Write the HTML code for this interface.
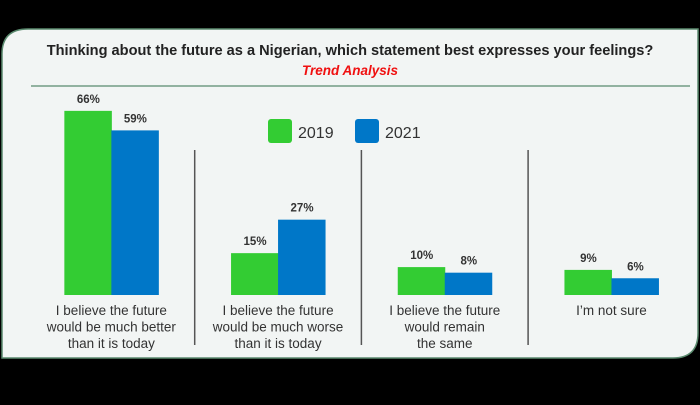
<!DOCTYPE html>
<html><head><meta charset="utf-8"><style>
body{margin:0;width:700px;height:400px;background:#000;overflow:hidden;font-family:"Liberation Sans",sans-serif}
</style></head><body>
<svg width="700" height="400">
<path d="M28,29 H698 V333 Q698,358 673,358 H2 V54 Q2,29 28,29 Z" fill="#f2f5f4" stroke="#5a8a6e" stroke-width="1.5"/>
<text x="350" y="55" text-anchor="middle" font-size="14.6" font-weight="bold" fill="#222">Thinking about the future as a Nigerian, which statement best expresses your feelings?</text>
<text x="350" y="75" text-anchor="middle" font-size="13.5" font-weight="bold" font-style="italic" fill="#f01010">Trend Analysis</text>
<line x1="31" y1="86" x2="690" y2="86" stroke="#5a8a6e" stroke-width="1.2"/>
<g>
<rect x="268" y="119" width="24" height="24" rx="3" fill="#33cc33"/>
<text x="298" y="138" font-size="16" fill="#333">2019</text>
<rect x="355" y="119" width="24" height="24" rx="3" fill="#0077c8"/>
<text x="385" y="138" font-size="16" fill="#333">2021</text>
</g>
<g id="bars"></g>
</svg>
<script>
const categories=[["I believe the future","would be much better","than it is today"],["I believe the future","would be much worse","than it is today"],["I believe the future","would remain","the same"],["I’m not sure"]];
const values2019=[66,15,10,9];
const values2021=[59,27,8,6];
const ns="http://www.w3.org/2000/svg";
const g=document.getElementById('bars');
const base=295, scale=2.79, groupW=166.7, x0=28;
function y(v){return base-v*scale;}
function mk(t,a){const e=document.createElementNS(ns,t);for(const k in a)e.setAttribute(k,a[k]);g.appendChild(e);return e;}
categories.forEach((c,i)=>{
  const cx=x0+groupW*(i+0.5);
  [[values2019[i],"#33cc33",cx-47,"2019"],[values2021[i],"#0077c8",cx,"2021"]].forEach(([v,col,x,yr])=>{
    const r=mk('rect',{x:x,y:y(v),width:47.5,height:v*scale,fill:col});
    
    
    const t=mk('text',{x:x+24,y:y(v)-8,'text-anchor':'middle','font-size':'11.5','font-weight':'bold',fill:'#333'});
    t.textContent=v+'%';
    
    
  });
  c.forEach((ln,j)=>{
    const t=mk('text',{x:cx,y:315+j*16.5,'text-anchor':'middle','font-size':'13.5',fill:'#333'});
    t.textContent=ln;
    
    
  });
  if(i>0){
    const sx=x0+groupW*i;
    const l=mk('line',{x1:sx,y1:150,x2:sx,y2:345,stroke:'#555','stroke-width':1.5});
    
    
  }
});
</script>
</body></html>
